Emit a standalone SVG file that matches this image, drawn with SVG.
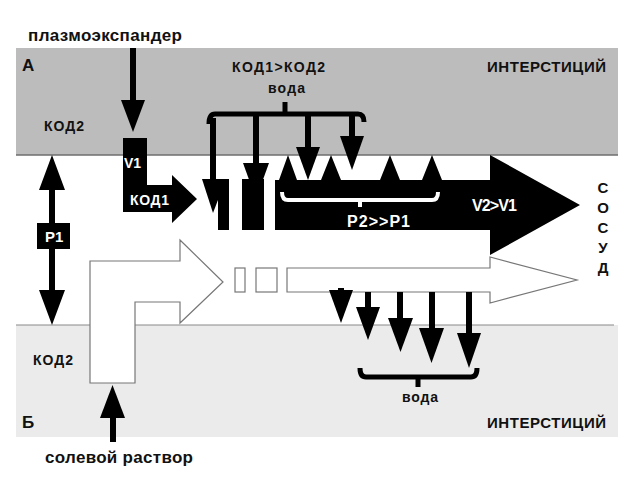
<svg xmlns="http://www.w3.org/2000/svg" width="640" height="480" viewBox="0 0 640 480">
<defs>
<style>
text{font-family:"Liberation Sans",Arial,sans-serif;font-weight:bold;fill:#111}
.w{fill:#fff}
.blk{fill:#000}
.shaft{stroke:#000;stroke-width:6;fill:none}
.br{stroke:#000;stroke-width:5;fill:none}
.wbr{stroke:#fff;stroke-width:4;fill:none}
.out{fill:#fff;stroke:#777;stroke-width:1.2}
</style>
</defs>
<rect width="640" height="480" fill="#fff"/>
<g id="interstitium-top">
<rect x="16" y="48" width="602" height="107" fill="#bcbcbc"/>
<line x1="16" y1="155" x2="618" y2="155" stroke="#6e6e6e" stroke-width="1.5"/>
</g>
<g id="interstitium-bottom">
<rect x="16" y="325" width="602" height="112" fill="#ebebeb"/>
<line x1="16" y1="325" x2="614" y2="325" stroke="#8a8a8a" stroke-width="1.2"/>
</g>
<g id="labels">
<text x="28" y="41" font-size="17" textLength="154">плазмоэкспандер</text>
<text x="22" y="71" font-size="17">А</text>
<text x="44" y="131" font-size="14" textLength="40">КОД2</text>
<text x="232" y="72" font-size="14" textLength="93">КОД1&gt;КОД2</text>
<text x="268" y="93" font-size="14" textLength="37">вода</text>
<text x="487" y="72" font-size="15" textLength="119">ИНТЕРСТИЦИЙ</text>
<text x="33" y="365" font-size="14" textLength="40">КОД2</text>
<text x="22" y="428" font-size="17">Б</text>
<text x="487" y="428" font-size="15" textLength="119">ИНТЕРСТИЦИЙ</text>
<text x="402" y="402" font-size="14" textLength="36">вода</text>
<text x="45" y="463" font-size="17" textLength="148">солевой раствор</text>
<g font-size="15" text-anchor="middle">
<text x="603" y="193">С</text>
<text x="603" y="213">О</text>
<text x="603" y="233">С</text>
<text x="603" y="253">У</text>
<text x="603" y="273">Д</text>
</g>
</g>
<g id="saline-flow">
<path class="out" d="M90,383 V261 H180 V240 L223,282 L180,323 V302 H135 V383 Z"/>
<rect class="out" x="235" y="268" width="10" height="24"/>
<rect class="out" x="256" y="268" width="21" height="24"/>
<path class="out" d="M287,268 H490 V257 L577,280 L490,303 V292 H287 Z"/>
</g>
<g id="v1-flow">
<path class="blk" d="M123,138 H147 V185 H172 V175 L197,199 L172,223 V212 H123 Z"/>
<text class="w" x="124" y="168" font-size="14">V1</text>
<text class="w" x="130" y="205" font-size="14" textLength="39">КОД1</text>
</g>
<g id="column-bars">
<rect class="blk" x="218" y="179" width="11" height="51"/>
<rect class="blk" x="242" y="179" width="22" height="51"/>
</g>
<g id="main-flow">
<path class="blk" d="M275,180 H490 V155 L580,205 L490,255 V230 H275 Z"/>
<path class="blk" d="M279,180 L288,155 L297,180 Z M321,180 L331,155 L341,180 Z M380,180 L390,155 L400,180 Z M422,180 L432,155 L442,180 Z"/>
<path class="wbr" d="M282,192 Q282,200 288,200 H432 Q438,200 438,192 M360,200 V207"/>
<text class="w" x="347" y="227" font-size="16" textLength="63">P2&gt;&gt;P1</text>
<text class="w" x="472" y="211" font-size="16" textLength="45">V2&gt;V1</text>
</g>
<g id="p1">
<rect class="blk" x="37" y="223" width="33" height="26"/>
<text class="w" x="45" y="242" font-size="15">P1</text>
</g>
<g id="connectors">
<g id="plasma-input">
<line class="shaft" x1="133" y1="48" x2="133" y2="102"/>
<path class="blk" d="M121,100 H145 L133,132 Z"/>
</g>
<g id="saline-input">
<line class="shaft" x1="113" y1="442" x2="113" y2="416"/>
<path class="blk" d="M100,418 H125 L112.5,385 Z"/>
</g>
<g id="p1-arrows">
<line class="shaft" x1="52" y1="188" x2="52" y2="223"/>
<line class="shaft" x1="52" y1="249" x2="52" y2="292"/>
<path class="blk" d="M39,190 L52,155 L65,190 Z M39,290 L52,325 L65,290 Z"/>
</g>
<g id="water-top">
<path class="br" d="M209,124 Q209,114 215,114 H358 Q364,114 364,122 M285,114 V102"/>
<line class="shaft" x1="213" y1="118" x2="213" y2="182"/>
<path class="blk" d="M202,179 H226 L213,213 Z"/>
<line class="shaft" x1="256" y1="114" x2="256" y2="166"/>
<path class="blk" d="M243,163 H269 L256,199 Z"/>
<line class="shaft" x1="308" y1="114" x2="308" y2="150"/>
<path class="blk" d="M296,147 H320 L308,180 Z"/>
<line class="shaft" x1="352" y1="114" x2="352" y2="139"/>
<path class="blk" d="M340,136 H364 L352,170 Z"/>
</g>
<g id="water-bottom">
<line class="shaft" x1="341" y1="288" x2="341" y2="292"/>
<path class="blk" d="M329,290 H353 L341,323 Z"/>
<line class="shaft" x1="368" y1="292" x2="368" y2="310"/>
<path class="blk" d="M356,307 H380 L368,340 Z"/>
<line class="shaft" x1="400" y1="292" x2="400" y2="321"/>
<path class="blk" d="M388,318 H413 L400.5,352 Z"/>
<line class="shaft" x1="432" y1="292" x2="432" y2="331"/>
<path class="blk" d="M419,328 H444 L431.5,363 Z"/>
<line class="shaft" x1="469" y1="292" x2="469" y2="336"/>
<path class="blk" d="M457,333 H481 L469,368 Z"/>
<path class="br" d="M360,368 Q360,377 366,377 H471 Q477,377 477,368 M418,377 V387"/>
</g>
</g>
</svg>
